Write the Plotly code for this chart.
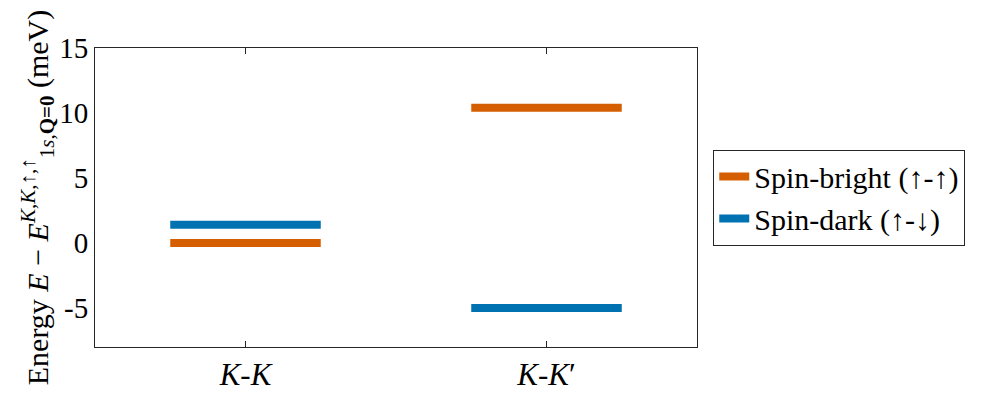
import plotly.graph_objects as go

# category positions and labels
categories = ["<i>K</i>-<i>K</i>", "<i>K</i>-<i>K</i>′"]
cat_pos = [1, 2]

# energies (meV) relative to the K-K bright 1s state
bright_vals = [0.0, 10.4]
dark_vals = [1.4, -5.0]

half_w = 0.25
FONT = "Liberation Serif"


def segments(vals):
    xs, ys = [], []
    for p, v in zip(cat_pos, vals):
        xs += [p - half_w, p + half_w, None]
        ys += [v, v, None]
    return xs, ys


fig = go.Figure()
bx, by = segments(bright_vals)
dx, dy = segments(dark_vals)
fig.add_trace(go.Scatter(x=bx, y=by, mode="lines", name="Spin-bright (↑-↑)",
                         line=dict(color="#D55E00", width=8)))
fig.add_trace(go.Scatter(x=dx, y=dy, mode="lines", name="Spin-dark (↑-↓)",
                         line=dict(color="#0072B2", width=8)))

# page body has an 8px margin, so the figure is sized to fit the window
fig.update_layout(
    width=989, height=393,
    margin=dict(l=87, r=300, t=40, b=54),
    plot_bgcolor="white", paper_bgcolor="white",
    font=dict(family=FONT, size=28, color="black"),
    legend=dict(x=1.027, y=0.5, xanchor="left", yanchor="middle",
                bordercolor="#262626", borderwidth=1, font=dict(size=30),
                tracegroupgap=0),
    xaxis=dict(range=[0.5, 2.5], tickvals=cat_pos, ticktext=categories,
               showline=True, linecolor="#262626", linewidth=1, mirror="ticks",
               ticks="inside", ticklen=6, tickcolor="#262626", automargin=False,
               showgrid=False, zeroline=False, tickfont=dict(size=31)),
    yaxis=dict(range=[-8, 15], tickvals=[-5, 0, 5, 10, 15],
               ticktext=["-5", "0", "5", "10", "15"],
               showline=True, linecolor="#262626", linewidth=1, mirror=True,
               ticks="", showgrid=False, zeroline=False, tickfont=dict(size=29),
               automargin=False,
               title=dict(text="Energy <i>E</i> − <i>E</i><sup><i>K</i>,<i>K</i>,↑,↑</sup><sub>1<i>s</i>,<b>Q=0</b></sub> (meV)",
                          font=dict(size=30), standoff=0)),
)

fig.write_html("out.html")
